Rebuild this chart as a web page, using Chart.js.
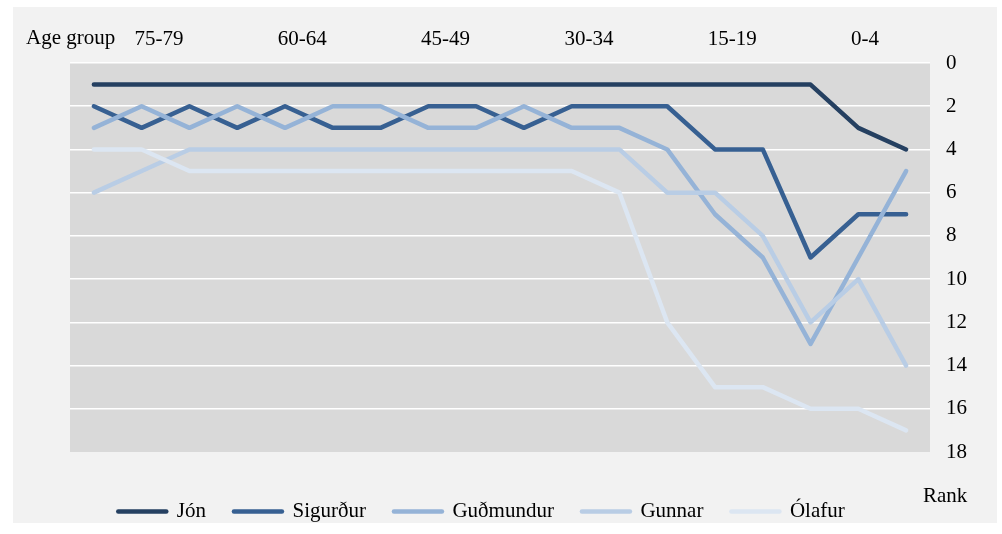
<!DOCTYPE html>
<html>
<head>
<meta charset="utf-8">
<script src="https://cdn.jsdelivr.net/npm/chart.js@4/dist/chart.umd.min.js"></script>
<style>
  body { margin: 0; background: #fff; overflow: hidden; }
  #wrap { position: relative; width: 1002px; height: 534px; }
  #panel { position: absolute; left: 13px; top: 7px; width: 984px; height: 516px; background: #f2f2f2; }
  canvas { position: absolute; left: 0; top: 0; }
  .lbl { position: absolute; font: 21px "Liberation Serif", serif; line-height: 21px; color: #000; white-space: nowrap; }
</style>
</head>
<body>
<div id="wrap">
  <div id="panel"></div>
  <canvas id="rankChart" width="1002" height="534"></canvas>
  <div class="lbl" style="left:26px; top:27px;">Age group</div>
  <div class="lbl" style="left:923px; top:485px;">Rank</div>
</div>
<script>
// age groups, oldest first
var ageGroups = ['85+', '80-84', '75-79', '70-74', '65-69', '60-64', '55-59', '50-54', '45-49',
  '40-44', '35-39', '30-34', '25-29', '20-24', '15-19', '10-14', '5-9', '0-4'];

// rank of each name per age group
var jon       = [1, 1, 1, 1, 1, 1, 1, 1, 1, 1, 1, 1, 1, 1, 1, 1, 3, 4];
var sigurdur  = [2, 3, 2, 3, 2, 3, 3, 2, 2, 3, 2, 2, 2, 4, 4, 9, 7, 7];
var gudmundur = [3, 2, 3, 2, 3, 2, 2, 3, 3, 2, 3, 3, 4, 7, 9, 13, 9, 5];
var gunnar    = [6, 5, 4, 4, 4, 4, 4, 4, 4, 4, 4, 4, 6, 6, 8, 12, 10, 14];
var olafur    = [4, 4, 5, 5, 5, 5, 5, 5, 5, 5, 5, 6, 12, 15, 15, 16, 16, 17];

var names  = ['Jón', 'Sigurður', 'Guðmundur', 'Gunnar', 'Ólafur'];
var series = [jon, sigurdur, gudmundur, gunnar, olafur];
var colors = ['#254061', '#376092', '#95b3d7', '#b9cde5', '#dce6f2'];

var font = { family: 'Liberation Serif', size: 21 };

// grey plot area behind the lines
var plotBackground = {
  id: 'plotBackground',
  beforeDraw: function (chart) {
    var ctx = chart.ctx, a = chart.chartArea;
    ctx.save();
    ctx.fillStyle = '#d9d9d9';
    ctx.fillRect(a.left, a.top, a.right - a.left, a.bottom - a.top);
    ctx.restore();
  }
};

var datasets = [];
for (var i = 0; i < series.length; i++) {
  datasets.push({
    label: names[i],
    data: series[i],
    borderColor: colors[i],
    backgroundColor: colors[i],
    borderWidth: 4.5,
    borderJoinStyle: 'round',
    borderCapStyle: 'round',
    pointRadius: 0,
    pointHoverRadius: 0,
    tension: 0,
    order: series.length - i
  });
}

new Chart(document.getElementById('rankChart'), {
  type: 'line',
  data: { labels: ageGroups, datasets: datasets },
  options: {
    responsive: false,
    animation: false,
    devicePixelRatio: 1,
    // negative left padding keeps the legend centred like the original
    layout: { padding: { left: -39, right: 0, top: 0, bottom: 2 } },
    scales: {
      x: {
        type: 'category',
        position: 'top',
        offset: true,
        grid: { display: false, drawTicks: false },
        border: { display: false },
        ticks: {
          autoSkip: false, maxRotation: 0, minRotation: 0,
          align: 'start', labelOffset: -55, padding: 11,
          color: '#000', font: font,
          callback: function (v, idx) { return idx % 3 === 2 ? ageGroups[idx] : ''; }
        },
        afterFit: function (s) { s.height = 63; }
      },
      y: {
        position: 'right',
        reverse: true,
        min: 0,
        max: 18,
        grid: {
          color: function (c) { return c.tick && c.tick.value === 18 ? 'rgba(0,0,0,0)' : '#ffffff'; },
          lineWidth: 1.5,
          drawTicks: false
        },
        border: { display: false },
        ticks: { stepSize: 2, padding: 16, color: '#000', font: font },
        afterFit: function (s) { s.width = 72; }
      },
      // spacers so the plot sits where the original one does
      yl: {
        type: 'linear', position: 'left', display: true,
        grid: { display: false, drawTicks: false }, border: { display: false },
        ticks: { display: false },
        afterFit: function (s) { s.width = 109; }
      },
      xb: {
        type: 'linear', position: 'bottom', display: true,
        grid: { display: false, drawTicks: false }, border: { display: false },
        ticks: { display: false },
        afterFit: function (s) { s.height = 21; }
      }
    },
    plugins: {
      tooltip: { enabled: false },
      legend: {
        position: 'bottom',
        labels: {
          usePointStyle: true,
          pointStyle: 'line',
          pointStyleWidth: 48,
          padding: 28,
          color: '#000',
          font: font,
          sort: function (a, b) { return a.datasetIndex - b.datasetIndex; },
          generateLabels: function (chart) {
            var items = Chart.defaults.plugins.legend.labels.generateLabels(chart);
            items.forEach(function (it) {
              it.lineWidth = 4.5;
              it.lineCap = 'round';
              it.strokeStyle = colors[it.datasetIndex];
            });
            return items;
          }
        }
      }
    }
  },
  plugins: [plotBackground]
});
</script>
</body>
</html>
